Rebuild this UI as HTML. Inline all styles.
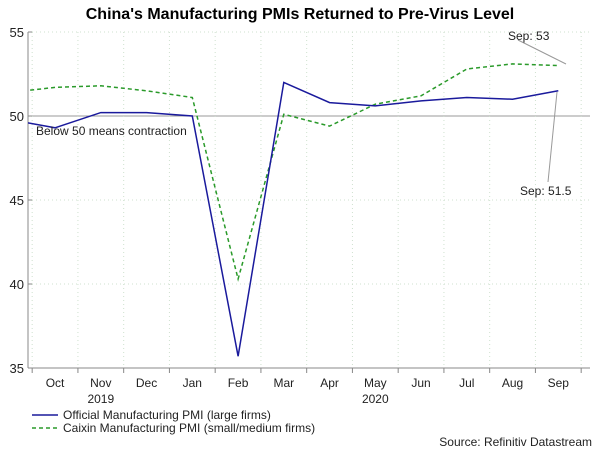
<!DOCTYPE html>
<html><head><meta charset="utf-8"><style>
body{margin:0;background:#fff;width:600px;height:456px;overflow:hidden;font-family:"Liberation Sans",Arial,sans-serif}
</style></head><body>
<svg id="c" width="600" height="456" xmlns="http://www.w3.org/2000/svg" font-family="Liberation Sans, Arial, sans-serif">
<text x="300" y="19" text-anchor="middle" font-size="16" font-weight="bold" fill="#000">China's Manufacturing PMIs Returned to Pre-Virus Level</text>
<defs><clipPath id="clip"><rect x="28" y="30" width="563" height="340"/></clipPath></defs>
<g id="grid"></g><g id="axes"></g><g id="series" clip-path="url(#clip)"></g>
<line x1="32" y1="415" x2="58" y2="415" stroke="#1a1a9c" stroke-width="1.5"/>
<text x="63" y="419" font-size="12" fill="#222">Official Manufacturing PMI (large firms)</text>
<line x1="32" y1="428" x2="58" y2="428" stroke="#2a9a2a" stroke-width="1.5" stroke-dasharray="4,3"/>
<text x="63" y="432" font-size="12" fill="#222">Caixin Manufacturing PMI (small/medium firms)</text>
<text x="592" y="446" text-anchor="end" font-size="12" fill="#222">Source: Refinitiv Datastream</text>
<text x="36" y="135" font-size="12" fill="#222">Below 50 means contraction</text>
<line x1="518" y1="40" x2="566" y2="64" stroke="#999"/>
<text x="508" y="40" font-size="12" fill="#222">Sep: 53</text>
<line x1="557" y1="92" x2="548" y2="182" stroke="#999"/>
<text x="520" y="195" font-size="12" fill="#222">Sep: 51.5</text>
</svg>
<script>
const months=["Sep","Oct","Nov","Dec","Jan","Feb","Mar","Apr","May","Jun","Jul","Aug","Sep"];
const official=[49.8,49.3,50.2,50.2,50.0,35.7,52.0,50.8,50.6,50.9,51.1,51.0,51.5];
const caixin=[51.4,51.7,51.8,51.5,51.1,40.3,50.1,49.4,50.7,51.2,52.8,53.1,53.0];
const yTicks=[35,40,45,50,55];
const yearLabels=[{i:2,t:"2019"},{i:8,t:"2020"}];
const NS="http://www.w3.org/2000/svg";
const step=45.75, x0=9.3;
const X=i=>x0+i*step;
const Y=v=>368-(v-35)*16.8;
function mk(tag,attrs,parent,text){const e=document.createElementNS(NS,tag);for(const k in attrs)e.setAttribute(k,attrs[k]);if(text!==undefined)e.textContent=text;document.getElementById(parent).appendChild(e);return e;}
yTicks.forEach(v=>{
  const g=mk("line",{x1:28,x2:590,y1:Y(v),y2:Y(v),stroke:v===50?"#999":"#cfe0cf","stroke-dasharray":v===50?"":"1,3"},"grid");
  
  
  const t=mk("text",{x:24,y:Y(v)+5,"text-anchor":"end","font-size":13,fill:"#222"},"axes",String(v));
  
  
  const tk=mk("line",{x1:28,x2:32,y1:Y(v),y2:Y(v),stroke:"#888"},"axes");
  
  
});
for(let i=0;i<months.length;i++){
  const b=X(i)+step/2;
  if(b<590){
    const gl=mk("line",{x1:b,x2:b,y1:32,y2:368,stroke:"#cfe0cf","stroke-dasharray":"1,3"},"grid");
    
    
    const tk=mk("line",{x1:b,x2:b,y1:368,y2:373,stroke:"#888"},"axes");
    
    
  }
  if(i>0){
    const t=mk("text",{x:X(i),y:387,"text-anchor":"middle","font-size":12,fill:"#222"},"axes",months[i]);
    
    
  }
}
yearLabels.forEach(y=>{
  const t=mk("text",{x:X(y.i),y:403,"text-anchor":"middle","font-size":12,fill:"#222"},"axes",y.t);
  
  
});
const ya=mk("line",{x1:28,x2:28,y1:32,y2:368,stroke:"#888"},"axes");


const xa=mk("line",{x1:28,x2:590,y1:368,y2:368,stroke:"#888"},"axes");


const pts=a=>a.map((v,i)=>X(i).toFixed(1)+","+Y(v).toFixed(1)).join(" ");
const c=mk("polyline",{points:pts(caixin),fill:"none",stroke:"#2a9a2a","stroke-width":1.5,"stroke-dasharray":"4,3"},"series");


const o=mk("polyline",{points:pts(official),fill:"none",stroke:"#1a1a9c","stroke-width":1.5},"series");


</script>
</body></html>
